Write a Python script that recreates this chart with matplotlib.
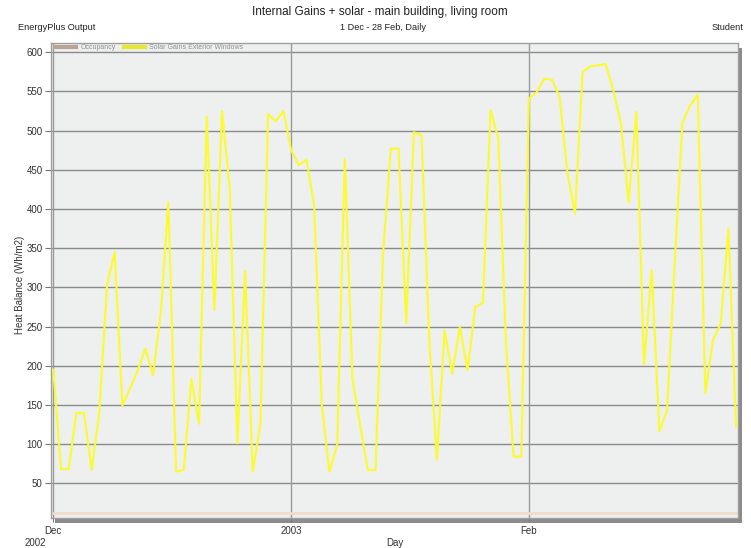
import matplotlib
matplotlib.use("Agg")
import matplotlib.pyplot as plt
from matplotlib.lines import Line2D

plt.rcParams['font.family'] = ['Liberation Sans', 'DejaVu Sans']

# Daily values, 1 Dec 2002 - 28 Feb 2003 (90 days)
solar_gains = [
    195, 68, 68, 140, 140, 67, 141, 303, 345, 149,
    171, 194, 222, 188, 267, 409, 65, 67, 183, 126,
    518, 271, 525, 425, 101, 321, 65, 126, 521, 512,
    525, 475, 456, 463, 405, 150, 65, 99, 464, 182,
    124, 67, 67, 345, 477, 477, 254, 498, 494, 235,
    80, 245, 190, 250, 194, 275, 280, 526, 490, 230,
    84, 84, 541, 549, 566, 565, 543, 447, 394, 575,
    582, 583, 585, 551, 509, 408, 524, 201, 322, 116,
    143, 330, 510, 532, 546, 165, 233, 254, 375, 122,
]
occupancy = [
    12, 12, 12, 12, 12, 12, 12, 12, 12, 12,
    12, 12, 12, 12, 12, 12, 12, 12, 12, 12,
    12, 12, 12, 12, 12, 12, 12, 12, 12, 12,
    12, 12, 12, 12, 12, 12, 12, 12, 12, 12,
    12, 12, 12, 12, 12, 12, 12, 12, 12, 12,
    12, 12, 12, 12, 12, 12, 12, 12, 12, 12,
    12, 12, 12, 12, 12, 12, 12, 12, 12, 12,
    12, 12, 12, 12, 12, 12, 12, 12, 12, 12,
    12, 12, 12, 12, 12, 12, 12, 12, 12, 12,
]
days = list(range(len(solar_gains)))

x_tick_pos = [0, 31, 62]
x_tick_labels = ["Dec", "2003", "Feb"]
y_ticks = [50, 100, 150, 200, 250, 300, 350, 400, 450, 500, 550, 600]

W, H = 751, 548
fig = plt.figure(figsize=(W / 100, H / 100), dpi=100)
fig.patch.set_facecolor("white")

left, right, top, bottom = 51, 738, 43, 517.5
ax = fig.add_axes([left / W, 1 - bottom / H, (right - left) / W, (bottom - top) / H])
ax.set_zorder(2)

# drop shadow behind the plot frame
shadow_ax = fig.add_axes([(left + 4) / W, 1 - (bottom + 5) / H, (right - left) / W, (bottom - top) / H])
shadow_ax.set_zorder(1)
shadow_ax.set_facecolor("#8c8c8c")
shadow_ax.set_xticks([])
shadow_ax.set_yticks([])
for s in shadow_ax.spines.values():
    s.set_visible(False)

ax.set_facecolor("#eeefef")
ax.set_xlim(-0.3, 89.25)
ax.set_ylim(6.4, 611.8)

for yv in y_ticks:
    ax.axhline(yv, color="#8a8a8a", lw=1.0, zorder=1)
for xv in x_tick_pos:
    ax.axvline(xv, color="#9a9a9a", lw=1.0, zorder=1)

ax.plot(days, occupancy, color="#f0dccb", lw=2.0, zorder=2, label="Occupancy")
ax.plot(days, solar_gains, color="#fbfb2e", lw=1.5, zorder=3, label="Solar Gains Exterior Windows")

for s in ax.spines.values():
    s.set_color("#a0a0a0")
    s.set_linewidth(1.0)

ax.set_yticks(y_ticks)
ax.set_yticklabels([str(v) for v in y_ticks], fontsize=7, color="#333333")
ax.set_xticks(x_tick_pos)
ax.set_xticklabels(x_tick_labels, fontsize=7, color="#333333")
ax.tick_params(axis="y", length=4, width=0.8, color="#777777", pad=2)
ax.tick_params(axis="x", length=3, width=0.8, color="#777777", pad=3)

ax.set_ylabel("Heat Balance (Wh/m2)", fontsize=7, color="#333333")
ax.yaxis.set_label_coords((25 - left) / (right - left), 0.49)

fig.text(25 / W, 1 - 543 / H, "2002", fontsize=7, color="#333333", ha="left", va="center")
fig.text(395 / W, 1 - 543 / H, "Day", fontsize=7, color="#333333", ha="center", va="center")

fig.text(380 / W, 1 - 12 / H, "Internal Gains + solar - main building, living room",
         fontsize=8.5, color="#222222", ha="center", va="center")
fig.text(18 / W, 1 - 27 / H, "EnergyPlus Output", fontsize=6.6, color="#222222", ha="left", va="center")
fig.text(383 / W, 1 - 27 / H, "1 Dec - 28 Feb, Daily", fontsize=6.6, color="#222222", ha="center", va="center")
fig.text(743 / W, 1 - 27 / H, "Student", fontsize=6.6, color="#222222", ha="right", va="center")

handles = [Line2D([], [], color="#b8a494", lw=3), Line2D([], [], color="#e8e82a", lw=3)]
leg = ax.legend(handles, ["Occupancy", "Solar Gains Exterior Windows"], loc="upper left",
                ncol=2, frameon=False, fontsize=5, handlelength=3.0, handletextpad=0.6,
                columnspacing=1.2, borderaxespad=0.0, bbox_to_anchor=(0.002, 1.003))
for t in leg.get_texts():
    t.set_color("#909090")

fig.savefig("out.png", dpi=100)
